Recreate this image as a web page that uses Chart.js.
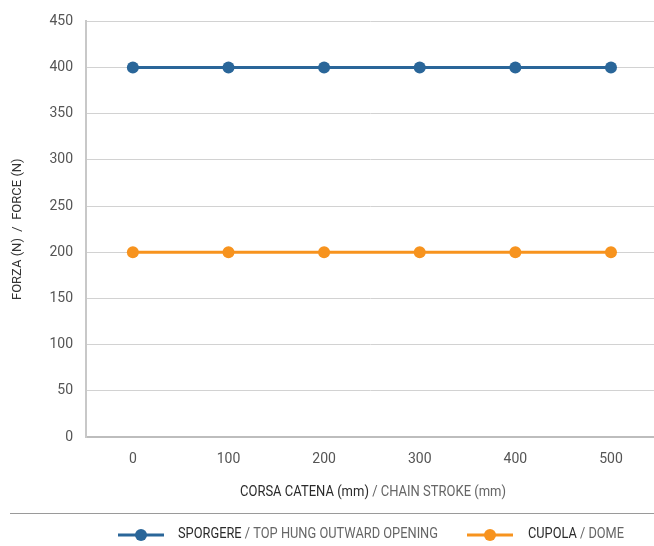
<!DOCTYPE html>
<html>
<head>
<meta charset="utf-8">
<script src="https://cdn.jsdelivr.net/npm/chart.js@4/dist/chart.umd.min.js"></script>
<style>
html,body{margin:0;padding:0;background:#fff;overflow:hidden;}
#wrap{width:654px;height:546px;position:relative;}
</style>
</head>
<body>
<div id="wrap"><canvas id="c" width="654" height="546"></canvas></div>
<script>
const strokes = [0, 100, 200, 300, 400, 500];
const sporgere = [400, 400, 400, 400, 400, 400];
const cupola = [200, 200, 200, 200, 200, 200];
const yTicks = [0, 50, 100, 150, 200, 250, 300, 350, 400, 450];
const seriesIt = ['SPORGERE', 'CUPOLA'];
const seriesEn = ['TOP HUNG OUTWARD OPENING', 'DOME'];
const xTitleIt = 'CORSA CATENA (mm)';
const xTitleEn = 'CHAIN STROKE (mm)';
const yTitle = 'FORZA (N)  /  FORCE (N)';

const FONT = "Roboto, 'Liberation Sans', sans-serif";
const BLUE = '#2a6699';
const ORANGE = '#f7931e';

function twoTone(ctx, a, b, x0, y, target, dark, light) {
  const wa = ctx.measureText(a).width, wb = ctx.measureText(b).width;
  const f = Math.min(1, target / (wa + wb));
  ctx.fillStyle = dark;
  ctx.fillText(a, x0, y, wa * f);
  ctx.fillStyle = light;
  ctx.fillText(b, x0 + wa * f, y, wb * f);
}

const extras = {
  id: 'extras',
  afterDraw(chart) {
    const ctx = chart.ctx;
    ctx.save();
    ctx.font = '14px ' + FONT;
    ctx.textBaseline = 'middle';
    ctx.textAlign = 'left';
    twoTone(ctx, xTitleIt, ' / ' + xTitleEn, 240, 492, 266, '#2b2b2b', '#666');
    ctx.strokeStyle = '#9a9a9a';
    ctx.lineWidth = 1;
    ctx.beginPath();
    ctx.moveTo(10, 513.5);
    ctx.lineTo(654, 513.5);
    ctx.stroke();
    const ly = 535;
    const starts = [118, 467];
    const textX = [178, 528];
    const textW = [260, 96];
    chart.data.datasets.forEach((ds, i) => {
      const sx = starts[i];
      ctx.strokeStyle = ds.borderColor;
      ctx.lineWidth = 3;
      ctx.beginPath();
      ctx.moveTo(sx, ly);
      ctx.lineTo(sx + 46, ly);
      ctx.stroke();
      ctx.fillStyle = ds.borderColor;
      ctx.beginPath();
      ctx.arc(sx + 23, ly, 6, 0, Math.PI * 2);
      ctx.fill();
      twoTone(ctx, seriesIt[i], ' / ' + seriesEn[i], textX[i], ly - 1, textW[i], '#2b2b2b', '#666');
    });
    ctx.restore();
  }
};

new Chart(document.getElementById('c'), {
  type: 'line',
  data: {
    datasets: [
      {
        label: seriesIt[0] + ' / ' + seriesEn[0],
        data: strokes.map((x, i) => ({ x: x, y: sporgere[i] })),
        borderColor: BLUE, backgroundColor: BLUE,
        borderWidth: 3, pointRadius: 6, pointHoverRadius: 6,
        pointBackgroundColor: BLUE, pointBorderWidth: 0
      },
      {
        label: seriesIt[1] + ' / ' + seriesEn[1],
        data: strokes.map((x, i) => ({ x: x, y: cupola[i] })),
        borderColor: ORANGE, backgroundColor: ORANGE,
        borderWidth: 3, pointRadius: 6, pointHoverRadius: 6,
        pointBackgroundColor: ORANGE, pointBorderWidth: 0
      }
    ]
  },
  options: {
    responsive: false,
    animation: false,
    layout: { autoPadding: false, padding: { top: 21, right: 0, bottom: 0, left: 0 } },
    plugins: { legend: { display: false }, tooltip: { enabled: false } },
    scales: {
      x: {
        type: 'linear',
        min: -49, max: 545,
        afterBuildTicks(axis) { axis.ticks = strokes.map(v => ({ value: v })); },
        afterFit(scale) { scale.height = 109; scale.paddingLeft = 0; scale.paddingRight = 0; },
        grid: { display: false, drawTicks: false },
        border: { display: true, color: '#bdbdbd', width: 2 },
        ticks: { color: '#555', padding: 14, font: { family: FONT, size: 14 }, maxRotation: 0 }
      },
      y: {
        min: 0, max: 450,
        afterBuildTicks(axis) { axis.ticks = yTicks.map(v => ({ value: v })); },
        afterFit(scale) { scale.width = 86; scale.paddingLeft = 0; scale.paddingRight = 0; },
        grid: { color: '#d2d2d2', lineWidth: 1, drawTicks: false },
        border: { display: true, color: '#c8c8c8', width: 2 },
        ticks: { color: '#555', padding: 13, font: { family: FONT, size: 14 } },
        title: { display: true, text: yTitle, color: '#333', font: { family: FONT, size: 13 }, padding: { top: 10, bottom: 0 } }
      }
    }
  },
  plugins: [extras]
});
</script>
</body>
</html>
